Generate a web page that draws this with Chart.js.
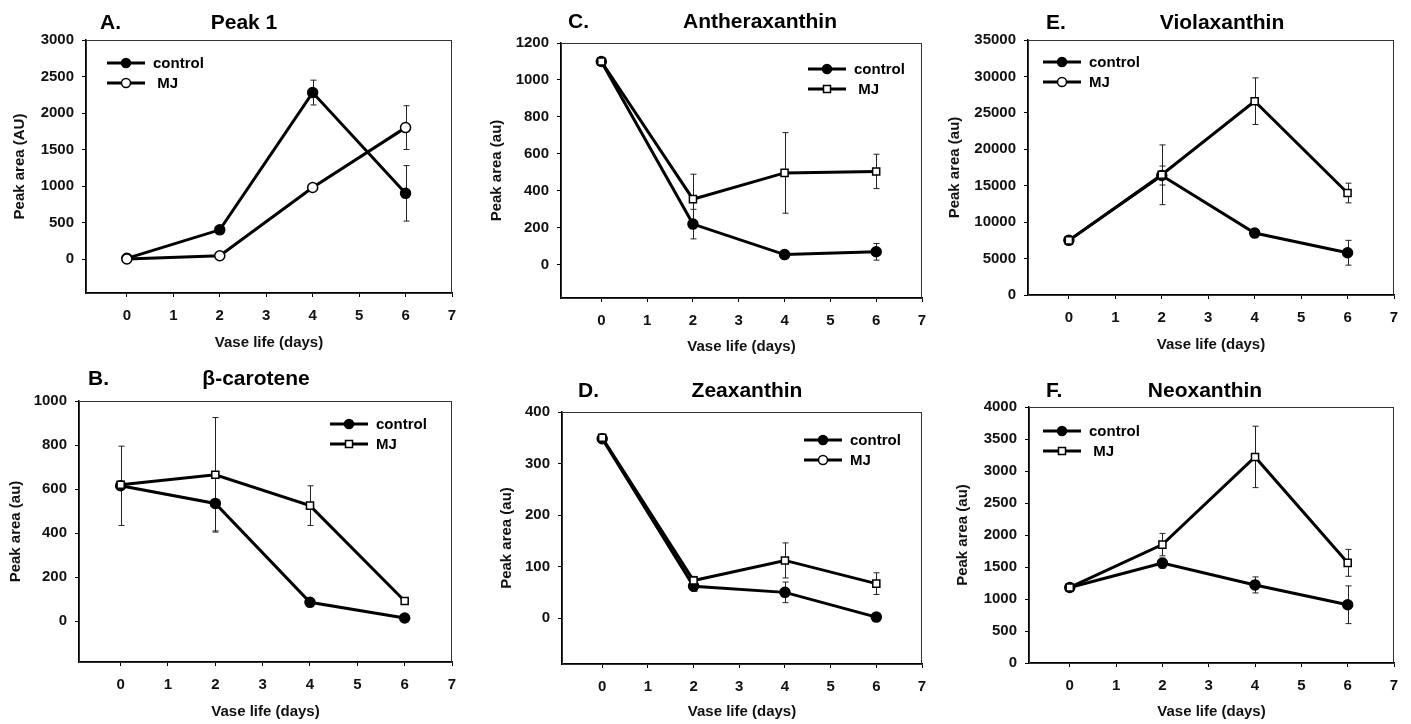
<!DOCTYPE html>
<html>
<head>
<meta charset="utf-8">
<script src="https://cdn.jsdelivr.net/npm/chart.js@4.4.0/dist/chart.umd.min.js"></script>
<style>
  html, body { margin: 0; padding: 0; background: #fff; }
  #page { position: relative; width: 1411px; height: 724px; }
  .panel { position: absolute; }
</style>
</head>
<body>
<div id="page"></div>
<script>
  "use strict";

  // shared x values and ticks
  var days = [0, 2, 4, 6];
  var xTicks = [0, 1, 2, 3, 4, 5, 6, 7];

  // A. Peak 1
  var peak1Ticks = [0, 500, 1000, 1500, 2000, 2500, 3000];
  var peak1Control = [10, 400, 2280, 900];
  var peak1ControlErr = [0, 0, 170, 380];
  var peak1Mj = [0, 45, 980, 1800];
  var peak1MjErr = [0, 0, 0, 300];

  // B. beta-carotene
  var caroteneTicks = [0, 200, 400, 600, 800, 1000];
  var caroteneControl = [615, 535, 86, 15];
  var caroteneControlErr = [180, 125, 0, 0];
  var caroteneMj = [620, 665, 525, 92];
  var caroteneMjErr = [0, 260, 90, 0];

  // C. Antheraxanthin
  var antheraTicks = [0, 200, 400, 600, 800, 1000, 1200];
  var antheraControl = [1100, 220, 55, 70];
  var antheraControlErr = [0, 80, 15, 45];
  var antheraMj = [1100, 355, 497, 505];
  var antheraMjErr = [0, 135, 218, 93];

  // D. Zeaxanthin
  var zeaTicks = [0, 100, 200, 300, 400];
  var zeaControl = [348, 62, 50, 2];
  var zeaControlErr = [0, 10, 20, 0];
  var zeaMj = [350, 73, 112, 67];
  var zeaMjErr = [0, 8, 34, 21];

  // E. Violaxanthin
  var violaTicks = [0, 5000, 10000, 15000, 20000, 25000, 30000, 35000];
  var violaControl = [7500, 16400, 8500, 5800];
  var violaControlErr = [0, 1300, 500, 1700];
  var violaMj = [7500, 16500, 26600, 14000];
  var violaMjErr = [0, 4100, 3200, 1350];

  // F. Neoxanthin
  var neoTicks = [0, 500, 1000, 1500, 2000, 2500, 3000, 3500, 4000];
  var neoControl = [1180, 1560, 1220, 910];
  var neoControlErr = [0, 80, 125, 295];
  var neoMj = [1180, 1850, 3220, 1565];
  var neoMjErr = [0, 175, 480, 210];

  var FONT = '"Liberation Sans", Arial, sans-serif';

  var panels = [
    { letter: "A.", title: "Peak 1", yLabel: "Peak area (AU)", yMin: -465, yMax: 3000, yTicks: peak1Ticks,
      control: peak1Control, controlErr: peak1ControlErr, mj: peak1Mj, mjErr: peak1MjErr,
      mjStyle: "circle", legendMj: "circle", mjText: " MJ",
      box: [0, 0, 470, 360], area: [86, 40, 452, 293],
      letterX: 100, titleX: 244, titleY: 29, legendX: 107, legendY: 63, yTitleX: 20, xTitleY: 343 },
    { letter: "C.", title: "Antheraxanthin", yLabel: "Peak area (au)", yMin: -180, yMax: 1200, yTicks: antheraTicks,
      control: antheraControl, controlErr: antheraControlErr, mj: antheraMj, mjErr: antheraMjErr,
      mjStyle: "rect", legendMj: "rect", mjText: " MJ",
      box: [470, 0, 470, 360], area: [561, 43, 922, 298],
      letterX: 568, titleX: 760, titleY: 28, legendX: 808, legendY: 69, yTitleX: 497, xTitleY: 347 },
    { letter: "E.", title: "Violaxanthin", yLabel: "Peak area (au)", yMin: 0, yMax: 35000, yTicks: violaTicks,
      control: violaControl, controlErr: violaControlErr, mj: violaMj, mjErr: violaMjErr,
      mjStyle: "rect", legendMj: "circle", mjText: "MJ",
      box: [940, 0, 471, 360], area: [1028, 40, 1394, 295],
      letterX: 1046, titleX: 1222, titleY: 29, legendX: 1043, legendY: 62, yTitleX: 955, xTitleY: 345 },
    { letter: "B.", title: "\u03b2-carotene", yLabel: "Peak area (au)", yMin: -185, yMax: 1000, yTicks: caroteneTicks,
      control: caroteneControl, controlErr: caroteneControlErr, mj: caroteneMj, mjErr: caroteneMjErr,
      mjStyle: "rect", legendMj: "rect", mjText: "MJ",
      box: [0, 360, 470, 364], area: [79, 401, 452, 662],
      letterX: 88, titleX: 256, titleY: 385, legendX: 330, legendY: 424, yTitleX: 16, xTitleY: 712 },
    { letter: "D.", title: "Zeaxanthin", yLabel: "Peak area (au)", yMin: -89, yMax: 400, yTicks: zeaTicks,
      control: zeaControl, controlErr: zeaControlErr, mj: zeaMj, mjErr: zeaMjErr,
      mjStyle: "rect", legendMj: "circle", mjText: "MJ",
      box: [470, 360, 470, 364], area: [562, 412, 922, 664],
      letterX: 578, titleX: 747, titleY: 397, legendX: 804, legendY: 440, yTitleX: 507, xTitleY: 712 },
    { letter: "F.", title: "Neoxanthin", yLabel: "Peak area (au)", yMin: 0, yMax: 4000, yTicks: neoTicks,
      control: neoControl, controlErr: neoControlErr, mj: neoMj, mjErr: neoMjErr,
      mjStyle: "rect", legendMj: "rect", mjText: " MJ",
      box: [940, 360, 471, 364], area: [1029, 407, 1394, 663],
      letterX: 1046, titleX: 1205, titleY: 397, legendX: 1043, legendY: 431, yTitleX: 963, xTitleY: 712 }
  ];

  function drawMarker(ctx, style, x, y, filled) {
    ctx.beginPath();
    if (style === "rect") {
      ctx.rect(x - 3.5, y - 3.5, 7, 7);
    } else {
      ctx.arc(x, y, 4.5, 0, Math.PI * 2);
    }
    ctx.fillStyle = filled ? "#000" : "#fff";
    ctx.fill();
    ctx.lineWidth = 1.5;
    ctx.strokeStyle = "#000";
    ctx.stroke();
  }

  // vertical error bars with small caps
  var errorBars = {
    id: "errorBars",
    beforeDatasetsDraw: function (chart) {
      var ctx = chart.ctx, xs = chart.scales.x, ys = chart.scales.y;
      ctx.save();
      ctx.strokeStyle = "#222";
      ctx.lineWidth = 1;
      chart.data.datasets.forEach(function (ds) {
        ds.data.forEach(function (p, i) {
          var e = ds.errors[i];
          if (!e) return;
          var x = Math.round(xs.getPixelForValue(p.x)) + 0.5;
          var top = ys.getPixelForValue(p.y + e);
          var bot = ys.getPixelForValue(p.y - e);
          ctx.beginPath();
          ctx.moveTo(x, top); ctx.lineTo(x, bot);
          ctx.moveTo(x - 3, top); ctx.lineTo(x + 3, top);
          ctx.moveTo(x - 3, bot); ctx.lineTo(x + 3, bot);
          ctx.stroke();
        });
      });
      ctx.restore();
    }
  };

  // frame, panel title and legend
  var decor = {
    id: "decor",
    afterDraw: function (chart) {
      var cfg = chart.options.plugins.decor;
      var ctx = chart.ctx, a = chart.chartArea;
      var ox = cfg.box[0], oy = cfg.box[1];
      ctx.save();
      ctx.strokeStyle = "#333";
      ctx.lineWidth = 1;
      ctx.strokeRect(Math.round(a.left) + 0.5, Math.round(a.top) + 0.5,
        Math.round(a.right - a.left) - 1, Math.round(a.bottom - a.top));

      ctx.fillStyle = "#000";
      ctx.font = "bold 21px " + FONT;
      ctx.textBaseline = "alphabetic";
      ctx.textAlign = "left";
      ctx.fillText(cfg.letter, cfg.letterX - ox, cfg.titleY - oy);
      ctx.textAlign = "center";
      ctx.fillText(cfg.title, cfg.titleX - ox, cfg.titleY - oy);

      var rows = [
        { text: "control", style: "circle", filled: true },
        { text: cfg.mjText, style: cfg.legendMj, filled: false }
      ];
      ctx.font = "bold 15px " + FONT;
      ctx.textAlign = "left";
      ctx.textBaseline = "middle";
      rows.forEach(function (r, i) {
        var x = cfg.legendX - ox, y = cfg.legendY - oy + i * 20;
        ctx.beginPath();
        ctx.moveTo(x, y); ctx.lineTo(x + 38, y);
        ctx.lineWidth = 3;
        ctx.strokeStyle = "#000";
        ctx.stroke();
        drawMarker(ctx, r.style, x + 19, y, r.filled);
        ctx.fillStyle = "#000";
        ctx.fillText(r.text, x + 46, y + 1);
      });
      ctx.restore();
    }
  };

  function points(values) {
    return days.map(function (d, i) { return { x: d, y: values[i] }; });
  }

  function plainLabel(v) { return String(v); }

  function makeChart(p) {
    var div = document.createElement("div");
    div.className = "panel";
    div.style.left = p.box[0] + "px";
    div.style.top = p.box[1] + "px";
    div.style.width = p.box[2] + "px";
    div.style.height = p.box[3] + "px";
    var canvas = document.createElement("canvas");
    div.appendChild(canvas);
    document.getElementById("page").appendChild(div);

    var tickFont = { family: FONT, size: 15, weight: "bold" };

    new Chart(canvas.getContext("2d"), {
      type: "line",
      data: {
        datasets: [
          {
            label: "control",
            order: 1,
            data: points(p.control),
            errors: p.controlErr,
            borderColor: "#000",
            borderWidth: 3,
            pointStyle: "circle",
            pointRadius: 5,
            pointBackgroundColor: "#000",
            pointBorderColor: "#000",
            pointBorderWidth: 1.5,
            tension: 0
          },
          {
            label: "MJ",
            order: 0,
            data: points(p.mj),
            errors: p.mjErr,
            borderColor: "#000",
            borderWidth: 3,
            pointStyle: p.mjStyle,
            pointRadius: 5,
            pointBackgroundColor: "#fff",
            pointBorderColor: "#000",
            pointBorderWidth: 1.5,
            tension: 0
          }
        ]
      },
      options: {
        responsive: true,
        maintainAspectRatio: false,
        animation: false,
        layout: {
          padding: {
            left: 0,
            top: p.area[1] - p.box[1],
            right: p.box[0] + p.box[2] - p.area[2],
            bottom: 0
          }
        },
        plugins: {
          legend: { display: false },
          tooltip: { enabled: false },
          decor: p
        },
        scales: {
          x: {
            type: "linear",
            min: -0.88,
            max: 7,
            afterBuildTicks: function (s) { s.ticks = xTicks.map(function (v) { return { value: v }; }); },
            afterFit: function (s) { s.height = p.box[1] + p.box[3] - p.area[3]; },
            grid: { drawOnChartArea: false, tickLength: 4, color: "#000" },
            border: { color: "#000", width: 1.5 },
            ticks: { font: tickFont, color: "#111", padding: 10, maxRotation: 0, callback: plainLabel },
            title: {
              display: true, text: "Vase life (days)", color: "#111", font: tickFont,
              padding: { top: 0, bottom: p.box[1] + p.box[3] - p.xTitleY - 9 }
            }
          },
          y: {
            min: p.yMin,
            max: p.yMax,
            afterBuildTicks: function (s) { s.ticks = p.yTicks.map(function (v) { return { value: v }; }); },
            afterFit: function (s) { s.width = p.area[0] - p.box[0]; },
            grid: { drawOnChartArea: false, tickLength: 4, color: "#000" },
            border: { color: "#000", width: 1.5 },
            ticks: { font: tickFont, color: "#111", padding: 8, callback: plainLabel },
            title: {
              display: true, text: p.yLabel, color: "#111", font: tickFont,
              padding: { top: p.yTitleX - p.box[0] - 9, bottom: 0 }
            }
          }
        }
      },
      plugins: [errorBars, decor]
    });
  }

  panels.forEach(makeChart);
</script>
</body>
</html>
